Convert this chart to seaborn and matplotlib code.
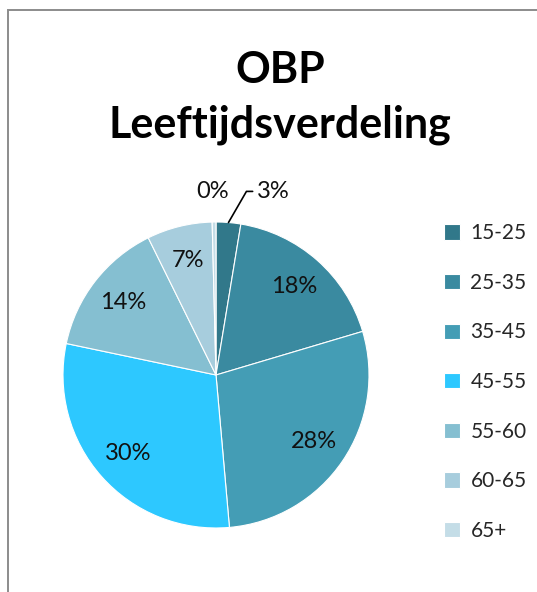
import numpy as np
import seaborn as sns
import matplotlib.pyplot as plt
from matplotlib.patches import Rectangle

age_groups = ["15-25", "25-35", "35-45", "45-55", "55-60", "60-65", "65+"]
shares = [2.6, 17.8, 28.2, 29.7, 14.4, 6.9, 0.4]
slice_colors = ["#31788A", "#3A8AA0", "#449DB5", "#2DC8FF", "#85BFD1", "#A7CDDD", "#C4DDE7"]

sns.set_theme(style="white")
plt.rcParams["font.family"] = ["Lato", "DejaVu Sans"]

W, H = 537, 592
fig = plt.figure(figsize=(W / 100, H / 100), dpi=100)

# chart frame, runs off the right and bottom edge like the screenshot
fig.patches.append(Rectangle((8 / W, -0.1), 1.2, 1.1 - 10 / H, transform=fig.transFigure,
                             fill=False, edgecolor="#8c8c8c", linewidth=1.4))

cx, cy, r = 216, 375, 153
lim = 1.03
half = r * lim
ax = fig.add_axes([(cx - half) / W, (H - cy - half) / H, 2 * half / W, 2 * half / H])

wedges, _ = ax.pie(shares, colors=slice_colors, startangle=90, counterclock=False,
                   wedgeprops=dict(edgecolor="white", linewidth=0.8))
ax.set_xlim(-lim, lim)
ax.set_ylim(-lim, lim)
ax.set_aspect("equal")

pct = [f"{round(v):.0f}%" for v in shares]
for w, lab in zip(wedges, pct):
    mid = np.deg2rad((w.theta1 + w.theta2) / 2)
    if lab in ("0%", "3%"):
        continue
    ax.text(0.77 * np.cos(mid), 0.77 * np.sin(mid), lab, ha="center", va="center",
            fontsize=17, color="#111111")

# small slices get outside labels
w0 = wedges[0]
mid0 = np.deg2rad((w0.theta1 + w0.theta2) / 2)
ax.annotate(pct[0], xy=(np.cos(mid0), np.sin(mid0)), xytext=(0.27, 1.2),
            ha="left", va="center", fontsize=17, color="#111111",
            arrowprops=dict(arrowstyle="-", color="black", lw=1.2,
                            connectionstyle="angle,angleA=0,angleB=60,rad=0",
                            shrinkA=1, shrinkB=0))
ax.text(-0.02, 1.2, pct[-1], ha="center", va="center", fontsize=17, color="#111111")

fig.text(280 / W, 1 - 70 / H, "OBP", ha="center", va="center",
         fontsize=31, fontweight="bold", color="black")
fig.text(280 / W, 1 - 125 / H, "Leeftijdsverdeling", ha="center", va="center",
         fontsize=31, fontweight="bold", color="black")

leg = fig.legend(wedges, age_groups, loc="upper left", bbox_to_anchor=(436 / W, 1 - 215 / H),
                 frameon=False, fontsize=15, handlelength=0.75, handleheight=0.75,
                 handletextpad=0.5, labelspacing=1.42, borderaxespad=0)

fig.savefig("out.png", dpi=100, facecolor="white")
